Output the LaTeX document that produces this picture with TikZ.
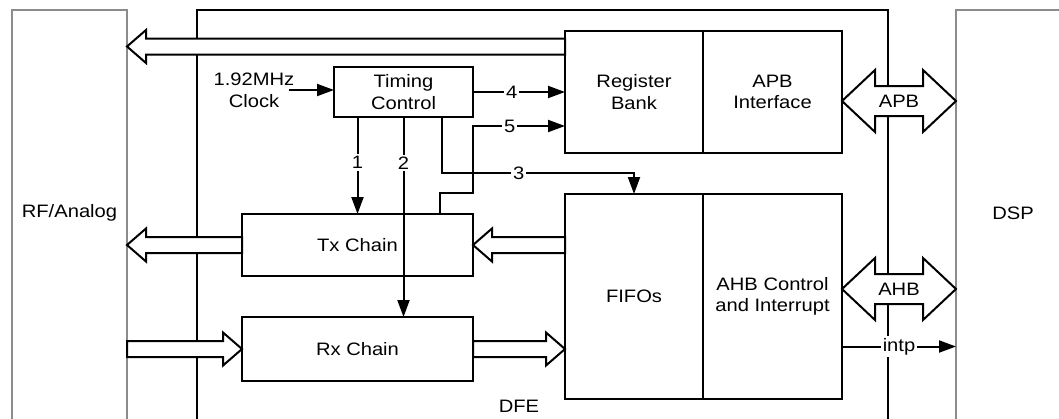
\documentclass[tikz,border=0pt]{standalone}
\usepackage{fontspec}
\setmainfont{Liberation Sans}[FakeStretch=1.12]
\usetikzlibrary{positioning,arrows.meta,calc}

\newcommand{\fatarrow}[2]{%
  \draw[fat] let \p1=(#1), \p2=(#2), \p3=($(\p2)!9.5pt!(\p1)$) in
    (\x1,{\y1+4pt}) -- (\x3,{\y1+4pt}) -- (\x3,{\y1+8.25pt}) -- (\x2,\y1)
    -- (\x3,{\y1-8.25pt}) -- (\x3,{\y1-4pt}) -- (\x1,{\y1-4pt}) -- cycle;}

\newcommand{\busarrow}[4]{%
  \draw[fat] let \p1=(#1), \p2=(#2) in
    (\x1,\y1) -- ({\x1+16.5pt},{\y1+15.5pt}) -- ({\x1+16.5pt},{\y1+7.5pt})
    -- ({\x2-16.5pt},{\y1+7.5pt}) -- ({\x2-16.5pt},{\y1+15.5pt}) -- (\x2,\y1)
    -- ({\x2-16.5pt},{\y1-15.5pt}) -- ({\x2-16.5pt},{\y1-7.5pt})
    -- ({\x1+16.5pt},{\y1-7.5pt}) -- ({\x1+16.5pt},{\y1-15.5pt}) -- cycle
    ({(\x1+\x2)/2},\y1) node (#3) {#4};}

\begin{document}
\begin{tikzpicture}[
        x=0.5pt, y=-0.5pt,
        font=\fontsize{9}{10.8}\selectfont,
        box/.style={draw, line width=1pt, outer sep=0pt, inner sep=0pt, align=center},
        ext/.style={draw=black!45, line width=0.75pt, outer sep=0pt, inner sep=0pt},
        sig/.style={-{Triangle[length=8.5pt, width=6pt]}, line width=1pt},
        fat/.style={draw, fill=white, line width=1pt},
        num/.style={fill=white, inner sep=1pt}
    ]
    \useasboundingbox (0,0) rectangle (1059,418);

    \node[ext, anchor=north west, minimum width=57.5pt, minimum height=220pt] (rf) at (12,10) {};
    \node[ext, anchor=north west, minimum width=100pt, minimum height=220pt] (dsp) at (956,10) {};
    \node[box, anchor=north west, minimum width=345.75pt, minimum height=220pt] (dfe) at (196.5,10) {};

    \node (rftxt) at (69.5,213) {RF/Analog};
    \node (dsptxt) at (1013,213) {DSP};
    \node (dfetxt) at (519,406) {DFE};

    \node[box, minimum width=69.5pt, minimum height=25pt] (tc) at (403.5,92) {Timing\\Control};
    \node[align=center, inner sep=0pt] (clk) at (254,90) {1.92MHz\\Clock};

    \node[box, minimum width=69pt, minimum height=61pt] (rb) at (634,92) {Register\\Bank};
    \node[box, minimum width=69.5pt, minimum height=61pt, right=0pt of rb] (apb) {APB\\Interface};

    \node[box, minimum width=69pt, minimum height=102.5pt] (fifo) at (634,296.5) {FIFOs};
    \node[box, minimum width=69.5pt, minimum height=102.5pt, right=0pt of fifo] (ahb) {AHB Control\\and Interrupt};

    \node[box, minimum width=115.5pt, minimum height=31pt] (tx) at (357.5,245) {Tx Chain};
    \node[box, minimum width=115.5pt, minimum height=32pt, below=20.5pt of tx] (rx) {Rx Chain};

    \draw[sig] ([xshift=-3pt]clk.east) -- (clk.east -| tc.west);
    \draw[sig] (tc.east) -- node[num, pos=0.42] {4} (tc.east -| rb.west);
    \draw[sig] ([xshift=-16.5pt]tx.north east) -- ++(0,-21) -| ([yshift=-4.5pt]tc.south east)
        -- node[num, pos=0.4] {5} ([yshift=-17pt]rb.west);
    \draw[sig] (tc.south -| tx.north) -- node[num, pos=0.47] {1} (tx.north);
    \draw[sig] (tc.south) -- node[num, pos=0.23] {2} (tc.south |- rx.north);
    \draw[sig] ([xshift=-15.5pt]tc.south east) |- node[num, pos=0.7] {3} ([yshift=10.5pt]fifo.north) -- (fifo.north);

    \coordinate (intp0) at ([yshift=-25pt]ahb.east);
    \draw[sig] (intp0) -- node[num] {intp} (intp0 -| dsp.west);

    \coordinate (rbout) at ([yshift=22.75pt]rb.west);
    \fatarrow{rbout}{rbout -| rf.east}
    \fatarrow{tx.west}{tx.west -| rf.east}
    \fatarrow{rx.west -| rf.east}{rx.west}
    \fatarrow{fifo.west |- tx.east}{tx.east}
    \fatarrow{rx.east}{rx.east -| fifo.west}

    \coordinate (apbbus) at ([yshift=-4.5pt]apb.east);
    \busarrow{apbbus}{apbbus -| dsp.west}{apbtxt}{APB}
    \coordinate (ahbbus) at ([yshift=3.75pt]ahb.east);
    \busarrow{ahbbus}{ahbbus -| dsp.west}{ahbtxt}{AHB}

\end{tikzpicture}
\end{document}
